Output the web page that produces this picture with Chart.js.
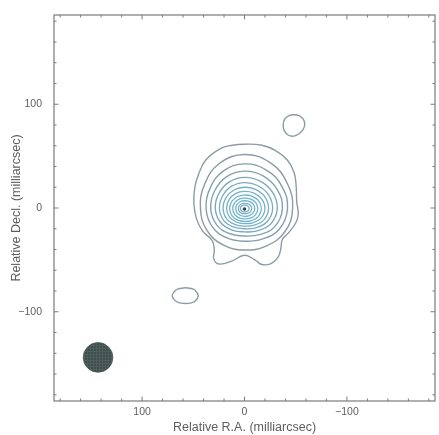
<!DOCTYPE html>
<html><head><meta charset="utf-8">
<script src="https://cdn.jsdelivr.net/npm/chart.js@4.4.0/dist/chart.umd.min.js"></script>
<style>html,body{margin:0;padding:0;background:#fff;}canvas{display:block;}</style>
</head><body>
<canvas id="c" width="439" height="435"></canvas>
<script>
// ---- text & axes ----
const xTitle = 'Relative R.A. (milliarcsec)';
const yTitle = 'Relative Decl. (milliarcsec)';
const axisMin = -186, axisMax = 186;
const majorTickValues = [-100, 0, 100];
const majorTickLabels = ['\u2212100', '0', '100'];
const minorStep = 20;

// ---- contour data (milliarcsec) ----
// angles measured on the picture, counter-clockwise from "right"
const angles = [0, 30, 60, 90, 120, 150, 180, 210, 240, 270, 300, 330];

// lowest, irregular contour (clockwise from top)
const outerX = [0, -17, -30, -42, -48.5, -50.5, -51, -52.5, -50.5, -43, -37, -35.5, -33, -26, -17, -10, 0, 12, 25, 30, 29.5, 31.5, 41, 47, 49.5, 48.5, 45, 38, 24, 12];
const outerY = [61.5, 60.5, 55.5, 46, 34, 20, 6, -5, -13.5, -24, -30, -39, -47, -53.5, -54.5, -50, -45.5, -51, -54, -49, -40, -31.5, -22, -10, 5, 20, 32, 46, 57, 60.5];

// nested contours around the core: radius at each angle
const ringCenter = [0, -0.5];
const ring2  = [47, 48.3, 50.8, 52, 49.8, 45.3, 43, 42.3, 40.8, 40, 41.8, 45.3];
const ring3  = [42, 42.3, 42.8, 43, 41.6, 38.9, 37.5, 36, 33, 31.5, 34.1, 39.4];
const ring4  = [37, 36.8, 36.3, 36, 35.3, 33.8, 33, 31.4, 28.1, 26.5, 29.1, 34.4];
const ring5  = [32, 31.5, 30.5, 30, 29.6, 28.9, 28.5, 27, 24, 22.5, 24.9, 29.6];
const ring6  = [27.5, 26.9, 25.6, 25, 24.9, 24.6, 24.5, 23.3, 20.8, 19.5, 21.5, 25.5];
const ring7  = [23.5, 22.8, 21.3, 20.5, 20.6, 20.9, 21, 20, 18, 17, 18.6, 21.9];
const ring8  = [20, 19.1, 17.4, 16.5, 16.8, 17.3, 17.5, 16.8, 15.3, 14.5, 15.9, 18.6];
const ring9  = [16.5, 15.6, 13.9, 13, 13.4, 14.1, 14.5, 14, 13, 12.5, 13.5, 15.5];
const ring10 = [13, 12.3, 10.8, 10, 10.4, 11.1, 11.5, 11.1, 10.4, 10, 10.8, 12.3];
const ring11 = [10, 9.4, 8.1, 7.5, 7.8, 8.3, 8.5, 8.3, 7.8, 7.5, 8.1, 9.4];
const ring12 = [7, 6.5, 5.5, 5, 5.3, 5.8, 6, 5.8, 5.3, 5, 5.5, 6.5];
const ring13 = [4.5, 4.2, 3.6, 3.3, 3.5, 3.8, 4, 3.8, 3.5, 3.3, 3.6, 4.2];

// isolated small contours
const blobNWCenter = [-48.3, 80.3];
const blobNWRadii = [10.5, 10.5, 10, 9.5, 10, 10.5, 10.5, 11, 11.5, 11, 10, 10];
const blobSECenter = [57.5, -84.5];
const blobSERadii = [12.3, 10.6, 8.3, 7.6, 8.3, 10.8, 13, 10.8, 8.3, 7.6, 8.3, 10.6];

// peak and restoring beam
const peakPoint = [0, -1];
const beamCenter = [143, -144];
const beamRadius = 14.5;

// ---- build datasets ----
function polarPoints(center, radii) {
  return radii.map((r, i) => {
    const a = angles[i] * Math.PI / 180;
    // RA axis runs right-to-left, so picture-right is negative x
    return { x: center[0] - r * Math.cos(a), y: center[1] + r * Math.sin(a) };
  });
}
function xyPoints(xs, ys) { return xs.map((x, i) => ({ x: x, y: ys[i] })); }
function loopData(pts) {
  const n = pts.length;
  return [pts[n - 1]].concat(pts, [pts[0], pts[1]]);
}
function contourDataset(pts, color, width) {
  const n = pts.length;
  return {
    type: 'scatter',
    data: loopData(pts),
    showLine: true,
    tension: 0.42,
    borderColor: color,
    borderWidth: width,
    pointRadius: 0,
    pointHoverRadius: 0,
    fill: false,
    segment: {
      borderColor: ctx => (ctx.p0DataIndex === 0 || ctx.p0DataIndex === n + 1) ? 'rgba(0,0,0,0)' : undefined
    }
  };
}

const rings = [ring2, ring3, ring4, ring5, ring6, ring7, ring8, ring9, ring10, ring11, ring12, ring13];
const ringColors = ['#8a9ca4', '#869fa9', '#82a4b1', '#7ea9b9', '#7aadc0', '#77b0c6', '#75b2ca', '#73b4cd', '#72b5cf', '#72b5cf', '#76b2ca', '#7cadc2'];

const datasets = [];
datasets.push(contourDataset(xyPoints(outerX, outerY), '#8b9ca3', 1.4));
rings.forEach((r, i) => datasets.push(contourDataset(polarPoints(ringCenter, r), ringColors[i], i < 4 ? 1.4 : 1.3)));
datasets.push(contourDataset(polarPoints(blobNWCenter, blobNWRadii), '#8b9ca3', 1.4));
datasets.push(contourDataset(polarPoints(blobSECenter, blobSERadii), '#8b9ca3', 1.4));

// beam fill pattern
const pc = document.createElement('canvas');
pc.width = 3; pc.height = 3;
const pctx = pc.getContext('2d');
pctx.fillStyle = '#3d4e4c'; pctx.fillRect(0, 0, 3, 3);
pctx.fillStyle = '#4d5e5c'; pctx.fillRect(0, 0, 3, 1); pctx.fillRect(0, 0, 1, 3);
const canvas = document.getElementById('c');
const beamPattern = canvas.getContext('2d').createPattern(pc, 'repeat');

datasets.push({
  type: 'scatter',
  data: [{ x: beamCenter[0], y: beamCenter[1] }],
  pointRadius: ctx => {
    const s = ctx.chart.scales.x;
    return s ? Math.abs(s.getPixelForValue(beamRadius) - s.getPixelForValue(0)) : 15;
  },
  pointBackgroundColor: beamPattern,
  pointBorderColor: '#4a5a58',
  pointBorderWidth: 0.8,
  pointHoverRadius: 0
});
datasets.push({
  type: 'scatter',
  data: [{ x: peakPoint[0], y: peakPoint[1] }],
  pointRadius: 1.8,
  pointBackgroundColor: '#3a4446',
  pointBorderWidth: 0
});

// ---- frame and inward ticks ----
const framePlugin = {
  id: 'frame',
  afterDraw(chart) {
    const { ctx, chartArea: a, scales } = chart;
    ctx.save();
    ctx.strokeStyle = '#7a7a7a';
    ctx.lineWidth = 1.2;
    ctx.strokeRect(a.left, a.top, a.right - a.left, a.bottom - a.top);
    ctx.lineWidth = 1;
    ctx.beginPath();
    scales.x.ticks.forEach(t => {
      const p = scales.x.getPixelForValue(t.value);
      const len = majorTickValues.includes(t.value) ? 4.5 : 2.5;
      ctx.moveTo(p, a.bottom); ctx.lineTo(p, a.bottom - len);
      ctx.moveTo(p, a.top); ctx.lineTo(p, a.top + len);
    });
    scales.y.ticks.forEach(t => {
      const p = scales.y.getPixelForValue(t.value);
      const len = majorTickValues.includes(t.value) ? 4.5 : 2.5;
      ctx.moveTo(a.left, p); ctx.lineTo(a.left + len, p);
      ctx.moveTo(a.right, p); ctx.lineTo(a.right - len, p);
    });
    ctx.stroke();
    ctx.restore();
  }
};

function tickLabel(v) {
  const i = majorTickValues.indexOf(v);
  return i >= 0 ? majorTickLabels[i] : '';
}

const fontFamily = '"Liberation Sans", Arial, sans-serif';
new Chart(canvas, {
  type: 'scatter',
  data: { datasets },
  options: {
    responsive: false,
    animation: false,
    events: [],
    layout: { padding: { top: 15, right: 1, left: 0, bottom: 0 } },
    plugins: { legend: { display: false }, tooltip: { enabled: false } },
    scales: {
      x: {
        type: 'linear', min: axisMin, max: axisMax, reverse: true,
        grid: { display: false, drawTicks: false },
        border: { display: false },
        ticks: {
          stepSize: minorStep, includeBounds: false, autoSkip: false, maxRotation: 0,
          callback: v => tickLabel(v), color: '#5e5e5e', padding: 5,
          font: { family: fontFamily, size: 10.5 }
        },
        title: { display: true, text: xTitle, color: '#5e5e5e', padding: { top: 0, bottom: 0 },
          font: { family: fontFamily, size: 12.5 } },
        afterFit: s => { s.height = 34; s.paddingLeft = 0; s.paddingRight = 0; }
      },
      y: {
        type: 'linear', min: axisMin, max: axisMax,
        grid: { display: false, drawTicks: false },
        border: { display: false },
        ticks: {
          stepSize: minorStep, includeBounds: false, autoSkip: false,
          callback: v => tickLabel(v), color: '#5e5e5e', padding: 12,
          font: { family: fontFamily, size: 10.5 }
        },
        title: { display: true, text: yTitle, color: '#5e5e5e', padding: { top: 9.5, bottom: 0 },
          font: { family: fontFamily, size: 12.5 } },
        afterFit: s => { s.width = 54; s.paddingTop = 0; s.paddingBottom = 0; }
      }
    }
  },
  plugins: [framePlugin]
});
</script>
</body></html>
